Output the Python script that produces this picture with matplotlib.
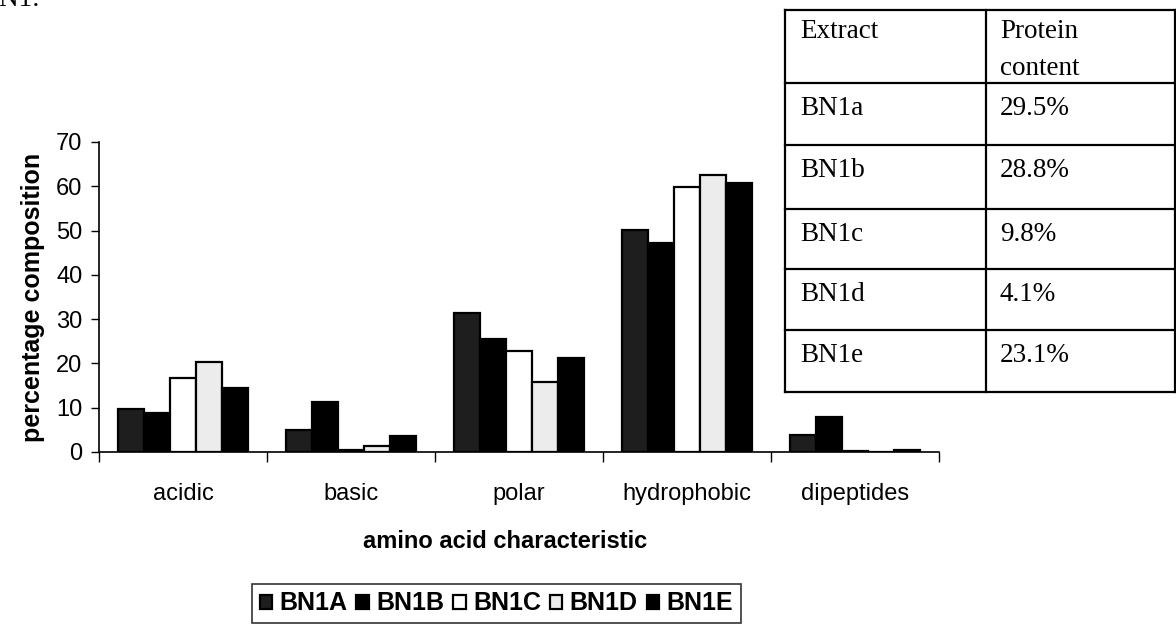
import matplotlib
matplotlib.use("Agg")
import matplotlib.pyplot as plt
import numpy as np
from matplotlib.lines import Line2D

categories = ["acidic", "basic", "polar", "hydrophobic", "dipeptides"]
series_names = ["BN1A", "BN1B", "BN1C", "BN1D", "BN1E"]
bn1a = [9.8, 5.0, 31.5, 50.2, 3.8]
bn1b = [8.9, 11.2, 25.5, 47.2, 8.0]
bn1c = [16.7, 0.5, 22.7, 59.8, 0.3]
bn1d = [20.4, 1.3, 15.8, 62.6, 0.0]
bn1e = [14.4, 3.7, 21.3, 60.7, 0.5]
series_values = [bn1a, bn1b, bn1c, bn1d, bn1e]
series_colors = ["#1e1e1e", "#000000", "#ffffff", "#ececec", "#000000"]
y_ticks = [0, 10, 20, 30, 40, 50, 60, 70]

table_header = ["Extract", "Protein", "content"]
table_extracts = ["BN1a", "BN1b", "BN1c", "BN1d", "BN1e"]
table_protein = ["29.5%", "28.8%", "9.8%", "4.1%", "23.1%"]

W, H = 1176, 628
fig = plt.figure(figsize=(W / 100, H / 100), dpi=100)
sans = ["Liberation Sans", "DejaVu Sans"]
serif = ["Liberation Serif", "DejaVu Serif"]

# main axes
x0, x1, yb, yt = 99, 939, 452, 142
ax = fig.add_axes([x0 / W, 1 - yb / H, (x1 - x0) / W, (yb - yt) / H])
n = len(series_names)
group = 0.775
bw = group / n
x = np.arange(len(categories))
for i, (name, vals, col) in enumerate(zip(series_names, series_values, series_colors)):
    ax.bar(x - group / 2 + bw * (i + 0.5), vals, width=bw, color=col,
           edgecolor="black", linewidth=1.6, label=name, zorder=3)

ax.set_xlim(-0.5, len(categories) - 0.5)
ax.set_ylim(0, 70)
ax.set_yticks(y_ticks)
ax.set_yticklabels([str(v) for v in y_ticks], fontfamily=sans, fontsize=17)
ax.tick_params(axis="y", direction="out", length=6, width=1, pad=6)
ax.set_xticks(np.arange(len(categories) + 1) - 0.5)
ax.set_xticklabels([])
ax.tick_params(axis="x", direction="out", length=7, width=1)
for xi, c in zip(x, categories):
    ax.text(xi, -0.1, c, transform=ax.get_xaxis_transform(), ha="center",
            va="top", fontfamily=sans, fontsize=17)
for s in ["top", "right"]:
    ax.spines[s].set_visible(False)
ax.spines["left"].set_linewidth(1.2)
ax.spines["bottom"].set_linewidth(1.2)
ax.set_ylabel("percentage composition", fontfamily=sans, fontsize=18,
              fontweight="bold", labelpad=8)
fig.text((x0 + x1) / 2 / W - 0.012, 1 - 541 / H, "amino acid characteristic",
         ha="center", va="center", fontfamily=sans, fontsize=17, fontweight="bold")

leg = fig.legend(loc="upper left", bbox_to_anchor=(252 / W, 1 - 584 / H), ncol=5,
                 frameon=True, fancybox=False, edgecolor="black", handlelength=0.5,
                 handleheight=0.5, handletextpad=0.3, columnspacing=0.35,
                 borderpad=0.3, borderaxespad=0,
                 prop={"family": sans, "size": 18, "weight": "bold"})
leg.get_frame().set_linewidth(1.2)

# overlay for table and stray caption
ov = fig.add_axes([0, 0, 1, 1], facecolor="none")
ov.set_xlim(0, W)
ov.set_ylim(H, 0)
ov.axis("off")
tl, tm, tr = 785, 986, 1175
rows = [10, 83, 145, 209, 269, 330, 392]
lw = 1.6
for yy in rows:
    ov.add_line(Line2D([tl, tr], [yy, yy], color="black", lw=lw))
for xx in [tl, tm, tr]:
    ov.add_line(Line2D([xx, xx], [rows[0], rows[-1]], color="black", lw=lw))
tfs = 19.5
ov.text(800, 38, table_header[0], fontfamily=serif, fontsize=tfs, va="baseline")
ov.text(1000, 38, table_header[1], fontfamily=serif, fontsize=tfs, va="baseline")
ov.text(1000, 75, table_header[2], fontfamily=serif, fontsize=tfs, va="baseline")
for i, (e, p) in enumerate(zip(table_extracts, table_protein)):
    base = rows[i + 1] + 32
    ov.text(800, base, e, fontfamily=serif, fontsize=tfs, va="baseline")
    ov.text(1000, base, p, fontfamily=serif, fontsize=tfs, va="baseline")
ov.text(40, 6, "BN1:", fontfamily=serif, fontsize=tfs, va="baseline", ha="right")

fig.savefig("out.png", dpi=100)
